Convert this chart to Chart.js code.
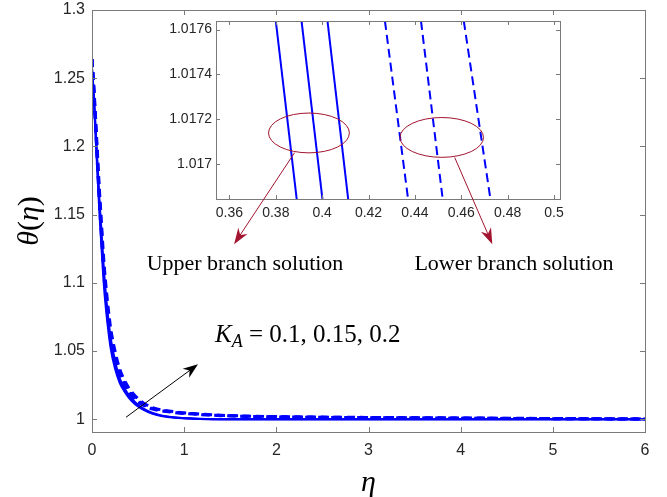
<!DOCTYPE html>
<html>
<head>
<meta charset="utf-8">
<script src="https://cdn.jsdelivr.net/npm/chart.js@4/dist/chart.umd.min.js"></script>
<style>
html, body { margin: 0; padding: 0; background: #fff; }
#wrap { position: relative; width: 667px; height: 497px; }
#wrap canvas { position: absolute; left: 0; top: 0; }
</style>
</head>
<body>
<div id="wrap">
  <canvas id="main" width="667" height="497"></canvas>
  <canvas id="inset" width="667" height="497"></canvas>
</div>
<script>
// main plot: theta(eta) for K_A = 0.1, 0.15, 0.2
const eta = [0, 0.02, 0.05, 0.08, 0.1, 0.13, 0.16, 0.2, 0.25, 0.3, 0.35, 0.4, 0.45, 0.5, 0.55, 0.65, 0.75, 0.9, 1.1, 1.4, 2, 3, 4, 5, 6];

// upper branch (solid)
const upperK010 = [1.257, 1.234, 1.192, 1.152, 1.129, 1.097, 1.075, 1.053, 1.037, 1.0268, 1.0206, 1.0158, 1.0122, 1.0094, 1.0072, 1.0042, 1.0025, 1.0012, 1.0005, 1.0001, 1.0, 1.0, 1.0, 1.0, 1.0];
const upperK015 = [1.257, 1.236, 1.196, 1.157, 1.135, 1.103, 1.080, 1.057, 1.040, 1.0285, 1.0219, 1.0168, 1.0130, 1.0100, 1.0077, 1.0045, 1.0027, 1.0013, 1.0005, 1.0001, 1.0, 1.0, 1.0, 1.0, 1.0];
const upperK020 = [1.257, 1.238, 1.200, 1.162, 1.141, 1.109, 1.085, 1.061, 1.043, 1.0302, 1.0232, 1.0178, 1.0138, 1.0106, 1.0082, 1.0048, 1.0029, 1.0014, 1.0006, 1.0001, 1.0, 1.0, 1.0, 1.0, 1.0];

// lower branch (dashed)
const lowerK010 = [1.264, 1.240, 1.199, 1.159, 1.137, 1.105, 1.082, 1.059, 1.043, 1.0318, 1.0252, 1.0201, 1.0157, 1.0128, 1.0106, 1.0077, 1.0062, 1.0049, 1.0038, 1.0027, 1.0018, 1.0012, 1.0008, 1.0005, 1.0002];
const lowerK015 = [1.264, 1.242, 1.203, 1.164, 1.142, 1.110, 1.087, 1.063, 1.046, 1.034, 1.0267, 1.0213, 1.0170, 1.0139, 1.0114, 1.0082, 1.0066, 1.0052, 1.0040, 1.0028, 1.0019, 1.0013, 1.0009, 1.0005, 1.0002];
const lowerK020 = [1.264, 1.244, 1.207, 1.169, 1.147, 1.115, 1.092, 1.068, 1.050, 1.037, 1.0290, 1.0229, 1.0186, 1.0152, 1.0124, 1.0088, 1.0070, 1.0055, 1.0042, 1.0030, 1.0020, 1.0014, 1.0010, 1.0006, 1.0003];

const xTicks = [0, 1, 2, 3, 4, 5, 6];
const yTicks = [1, 1.05, 1.1, 1.15, 1.2, 1.25, 1.3];

// inset (zoom near eta ~ 0.4): eta where each curve crosses the two theta levels
const insetTheta = [1.0177, 1.0168];
const insetUpper = [[0.3793, 0.3895], [0.3904, 0.4006], [0.4016, 0.4117]];
const insetLower = [[0.4263, 0.4376], [0.4419, 0.4525], [0.4602, 0.4732]];
const insetXTicks = [0.36, 0.38, 0.4, 0.42, 0.44, 0.46, 0.48, 0.5];
const insetYTicks = [1.017, 1.0172, 1.0174, 1.0176];

const BLUE = '#0000ff';
const RED = '#a2142f';
const AXIS = '#7a7a7a';
const TXT = '#262626';
const SERIF = '"Liberation Serif", "DejaVu Serif", serif';

const pts = arr => eta.map((e, i) => ({ x: e, y: arr[i] }));

function line(data, dashed, w) {
    return {
        data: data,
        borderColor: BLUE,
        borderWidth: w,
        borderDash: dashed ? [8, 5] : [],
        pointRadius: 0,
        fill: false,
        cubicInterpolationMode: 'monotone'
    };
}

// draws text made of several runs (italic / upright / subscript)
function drawRuns(ctx, runs, x, y, center) {
    let total = 0;
    runs.forEach(r => { ctx.font = r.font; r.w = ctx.measureText(r.t).width; total += r.w; });
    let cx = center ? x - total / 2 : x;
    runs.forEach(r => {
        ctx.font = r.font;
        ctx.fillText(r.t, cx, y + (r.dy || 0));
        cx += r.w;
    });
}

function arrow(ctx, x0, y0, x1, y1, color, lw, head, wid) {
    const a = Math.atan2(y1 - y0, x1 - x0);
    ctx.save();
    ctx.strokeStyle = color; ctx.fillStyle = color; ctx.lineWidth = lw;
    ctx.beginPath(); ctx.moveTo(x0, y0);
    ctx.lineTo(x1 - Math.cos(a) * head * 0.6, y1 - Math.sin(a) * head * 0.6);
    ctx.stroke();
    ctx.translate(x1, y1); ctx.rotate(a);
    ctx.beginPath();
    ctx.moveTo(0, 0);
    ctx.lineTo(-head, -wid / 2);
    ctx.lineTo(-head * 0.7, 0);
    ctx.lineTo(-head, wid / 2);
    ctx.closePath(); ctx.fill();
    ctx.restore();
}

function boxAndTicks(chart, len) {
    const { ctx, chartArea: a, scales: { x, y } } = chart;
    ctx.save();
    ctx.strokeStyle = AXIS; ctx.lineWidth = 1;
    ctx.beginPath();
    x.ticks.forEach(t => {
        const px = Math.round(x.getPixelForValue(t.value)) + 0.5;
        ctx.moveTo(px, a.bottom); ctx.lineTo(px, a.bottom - len);
        ctx.moveTo(px, a.top); ctx.lineTo(px, a.top + len);
    });
    y.ticks.forEach(t => {
        const py = Math.round(y.getPixelForValue(t.value)) + 0.5;
        ctx.moveTo(a.left, py); ctx.lineTo(a.left + len, py);
        ctx.moveTo(a.right, py); ctx.lineTo(a.right - len, py);
    });
    ctx.stroke();
    ctx.strokeRect(Math.round(a.left) + 0.5, Math.round(a.top) + 0.5, Math.round(a.width), Math.round(a.height));
    ctx.restore();
}

const mainDecor = {
    id: 'mainDecor',
    afterDatasetsDraw(chart) {
        const { ctx, scales: { x, y } } = chart;
        boxAndTicks(chart, 5);
        // K_A arrow
        arrow(ctx, x.getPixelForValue(0.369), y.getPixelForValue(1.0015),
              x.getPixelForValue(1.15), y.getPixelForValue(1.0403), '#000', 1, 15, 11);
        ctx.save();
        ctx.fillStyle = '#000';
        ctx.textBaseline = 'alphabetic';
        drawRuns(ctx, [
            { t: 'K', font: 'italic 25px ' + SERIF },
            { t: 'A', font: 'italic 18px ' + SERIF, dy: 5 },
            { t: ' = 0.1, 0.15, 0.2', font: '25px ' + SERIF }
        ], x.getPixelForValue(1.335), y.getPixelForValue(1.057), false);
        // axis titles
        ctx.textBaseline = 'middle';
        drawRuns(ctx, [{ t: 'η', font: 'italic 30px ' + SERIF }], (x.left + x.right) / 2, 483, true);
        ctx.translate(30, (y.top + y.bottom) / 2);
        ctx.rotate(-Math.PI / 2);
        drawRuns(ctx, [
            { t: 'θ', font: 'italic 30px ' + SERIF },
            { t: '(', font: '30px ' + SERIF },
            { t: 'η', font: 'italic 30px ' + SERIF },
            { t: ')', font: '30px ' + SERIF }
        ], 0, 0, true);
        ctx.restore();
    }
};

new Chart(document.getElementById('main'), {
    type: 'line',
    data: {
        datasets: [
            line(pts(lowerK010), true, 3),
            line(pts(lowerK015), true, 3),
            line(pts(lowerK020), true, 3),
            line(pts(upperK010), false, 2),
            line(pts(upperK015), false, 2),
            line(pts(upperK020), false, 2)
        ]
    },
    options: {
        responsive: false,
        animation: false,
        layout: { padding: { left: 0, top: 10, right: 22, bottom: 0 } },
        plugins: { legend: { display: false }, tooltip: { enabled: false } },
        scales: {
            x: {
                type: 'linear', min: 0, max: 6,
                grid: { display: false, drawTicks: false }, border: { display: false },
                afterBuildTicks: s => { s.ticks = xTicks.map(v => ({ value: v })); },
                afterFit: s => { s.height = 65; s.paddingLeft = 0; s.paddingRight = 0; },
                ticks: { padding: 9, color: TXT, maxRotation: 0, autoSkip: false,
                         font: { family: 'Liberation Sans', size: 16 }, callback: v => String(v) }
            },
            y: {
                type: 'linear', min: 0.9907, max: 1.3,
                grid: { display: false, drawTicks: false }, border: { display: false },
                afterBuildTicks: s => { s.ticks = yTicks.map(v => ({ value: v })); },
                afterFit: s => { s.width = 92; s.paddingTop = 0; s.paddingBottom = 0; },
                ticks: { padding: 7, color: TXT, autoSkip: false,
                         font: { family: 'Liberation Sans', size: 16 }, callback: v => String(+v.toFixed(4)) }
            }
        }
    },
    plugins: [mainDecor]
});

const insetDecor = {
    id: 'insetDecor',
    beforeDatasetsDraw(chart) {
        const { ctx, chartArea: a } = chart;
        ctx.save(); ctx.fillStyle = '#fff';
        ctx.fillRect(a.left, a.top, a.width, a.height);
        ctx.restore();
    },
    afterDatasetsDraw(chart) {
        const { ctx, scales: { x, y } } = chart;
        boxAndTicks(chart, 4);
        ctx.save();
        ctx.strokeStyle = RED; ctx.lineWidth = 1;
        [[0.3943, 1.017138, 0.01744], [0.4516, 1.017118, 0.0180]].forEach(e => {
            const cx = x.getPixelForValue(e[0]), cy = y.getPixelForValue(e[1]);
            const rx = x.getPixelForValue(e[0] + e[2]) - cx;
            const ry = cy - y.getPixelForValue(e[1] + 0.0000889);
            ctx.beginPath(); ctx.ellipse(cx, cy, rx, ry, 0, 0, Math.PI * 2); ctx.stroke();
        });
        ctx.restore();
        arrow(ctx, x.getPixelForValue(0.3881), y.getPixelForValue(1.01705),
              x.getPixelForValue(0.362), y.getPixelForValue(1.016641), RED, 1, 16, 11);
        arrow(ctx, x.getPixelForValue(0.4572), y.getPixelForValue(1.017028),
              x.getPixelForValue(0.4734), y.getPixelForValue(1.016641), RED, 1, 16, 11);
        ctx.save();
        ctx.fillStyle = '#000';
        ctx.textBaseline = 'alphabetic';
        drawRuns(ctx, [{ t: 'Upper branch solution', font: '22px ' + SERIF }], 245, 270, true);
        drawRuns(ctx, [{ t: 'Lower branch solution', font: '22px ' + SERIF }], 514, 270, true);
        ctx.restore();
    }
};

const insetLine = (pair, dashed) => ({
    data: [{ x: pair[0], y: insetTheta[0] }, { x: pair[1], y: insetTheta[1] }],
    borderColor: BLUE, borderWidth: 2,
    borderDash: dashed ? [9, 5] : [],
    pointRadius: 0, fill: false, tension: 0
});

new Chart(document.getElementById('inset'), {
    type: 'line',
    data: {
        datasets: insetUpper.map(p => insetLine(p, false)).concat(insetLower.map(p => insetLine(p, true)))
    },
    options: {
        responsive: false,
        animation: false,
        layout: { padding: { left: 156, top: 21, right: 107, bottom: 273 } },
        plugins: { legend: { display: false }, tooltip: { enabled: false } },
        scales: {
            x: {
                type: 'linear', min: 0.3542, max: 0.5026,
                grid: { display: false, drawTicks: false }, border: { display: false },
                afterBuildTicks: s => { s.ticks = insetXTicks.map(v => ({ value: v })); },
                afterFit: s => { s.height = 25; s.paddingLeft = 0; s.paddingRight = 0; },
                ticks: { padding: 6, color: TXT, maxRotation: 0, autoSkip: false,
                         font: { family: 'Liberation Sans', size: 14 }, callback: v => String(+v.toFixed(4)) }
            },
            y: {
                type: 'linear', min: 1.016843, max: 1.017638,
                grid: { display: false, drawTicks: false }, border: { display: false },
                afterBuildTicks: s => { s.ticks = insetYTicks.map(v => ({ value: v })); },
                afterFit: s => { s.width = 60; s.paddingTop = 0; s.paddingBottom = 0; },
                ticks: { padding: 4, color: TXT, autoSkip: false,
                         font: { family: 'Liberation Sans', size: 14 }, callback: v => String(+v.toFixed(5)) }
            }
        }
    },
    plugins: [insetDecor]
});
</script>
</body>
</html>
